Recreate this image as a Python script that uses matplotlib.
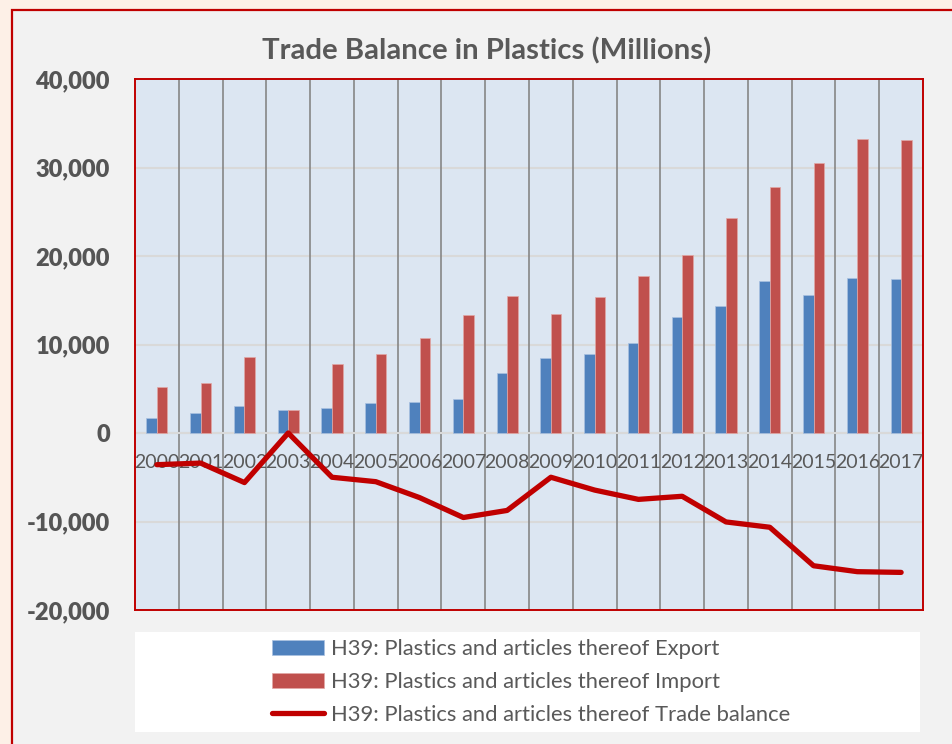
import matplotlib
matplotlib.use("Agg")
import matplotlib.pyplot as plt
import numpy as np
from matplotlib.patches import Rectangle
from matplotlib.ticker import FuncFormatter

# Plastics trade, millions
years = [str(y) for y in range(2000, 2018)]
export = [1650, 2300, 3000, 2650, 2830, 3360, 3480, 3820, 6730, 8460,
          8910, 10190, 13070, 14310, 17180, 15590, 17550, 17370]
imports = [5170, 5700, 8570, 2650, 7810, 8910, 10760, 13330, 15480, 13400,
           15370, 17710, 20160, 24310, 27790, 30540, 33230, 33110]
balance = [-3580, -3400, -5600, 0, -5000, -5500, -7300, -9550, -8750, -5000,
           -6450, -7500, -7150, -10050, -10650, -15000, -15670, -15750]
labels = ["H39: Plastics and articles thereof Export",
          "H39: Plastics and articles thereof Import",
          "H39: Plastics and articles thereof Trade balance"]

W, H = 953, 744
TXT = "#595959"
RED = "#C00000"

fig = plt.figure(figsize=(W / 100, H / 100), dpi=100, facecolor="#FDF0E7")

# chart frame
fig.patches.append(Rectangle((12 / W, -0.05), 1.1, 1 - 10 / H + 0.05,
                             transform=fig.transFigure, facecolor="#F2F2F2",
                             edgecolor=RED, linewidth=1.6, zorder=-3))
# legend background
fig.patches.append(Rectangle((135 / W, 1 - 732 / H), (920 - 135) / W, 100 / H,
                             transform=fig.transFigure, facecolor="white",
                             edgecolor="none", zorder=-2))

ax = fig.add_axes([135 / W, 1 - 610 / H, (923 - 135) / W, (610 - 79) / H])
ax.set_facecolor("#DCE6F2")

x = np.arange(len(years))
bw = 0.24
b1 = ax.bar(x - bw / 2, export, width=bw, color="#4F81BD", edgecolor="#A9C1E0",
            linewidth=0.5, zorder=3)
b2 = ax.bar(x + bw / 2, imports, width=bw, color="#C0504D", edgecolor="#E2A8A6",
            linewidth=0.5, zorder=3)

ax.set_xlim(-0.5, len(years) - 0.5)
ax.set_ylim(-20000, 40000)
ax.set_yticks(np.arange(-20000, 40001, 10000))
ax.yaxis.set_major_formatter(FuncFormatter(lambda v, p: f"{int(v):,}"))
ax.set_xticks([])
ax.tick_params(axis="y", length=0, pad=18, labelcolor="#555555")
for t in ax.get_yticklabels():
    t.set_fontfamily("Lato")
    t.set_fontweight("heavy")
    t.set_fontsize(17)

# gridlines
for v in np.arange(-10000, 40000, 10000):
    ax.axhline(v, color="#D9D9D9", linewidth=1.5, zorder=1)
for i in range(len(years) - 1):
    ax.axvline(i + 0.5, color="#868686", linewidth=1.2, zorder=1.5)
ax.axhline(0, color="#D9D9D9", linewidth=1.5, zorder=2)

for s in ax.spines.values():
    s.set_color(RED)
    s.set_linewidth(1.4)

# category labels sit just below the zero line
for xi, yr in zip(x, years):
    ax.text(xi, -3300, yr, ha="center", va="center", fontsize=14,
            family="Lato", color=TXT, zorder=4)

ln, = ax.plot(x, balance, color=RED, linewidth=3.8, solid_capstyle="round",
              solid_joinstyle="round", zorder=5)

fig.text(486.5 / W, 1 - 59 / H, "Trade Balance in Plastics (Millions)",
         ha="center", va="baseline", fontsize=21.2, fontweight="bold",
         family="Lato", color=TXT)

leg = fig.legend([b1, b2, ln], labels, loc="center",
                 bbox_to_anchor=(531 / W, 1 - 682 / H),
                 frameon=False, prop={"family": "Lato", "size": 15.8},
                 handlelength=2.4, handletextpad=0.3, labelspacing=0.58,
                 borderpad=0)
for t in leg.get_texts():
    t.set_color(TXT)

fig.savefig("out.png", dpi=100, facecolor=fig.get_facecolor())
